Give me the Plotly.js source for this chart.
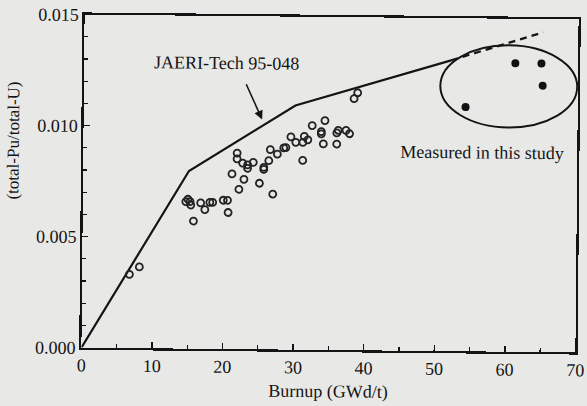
<!DOCTYPE html>
<html>
<head>
<meta charset="utf-8">
<script src="https://cdn.plot.ly/plotly-3.0.1.min.js"></script>
<style>
  html, body { margin: 0; padding: 0; background: #e8e8e6; overflow: hidden; }
  #chart { width: 587px; height: 406px; transform: rotate(0.55deg); transform-origin: 330px 183px; }
</style>
</head>
<body>
<div id="chart"></div>
<script>
// Reference curve (JAERI-Tech 95-048)
const refBurnup = [0, 15, 30, 52];
const refRatio  = [0, 0.0080, 0.0110, 0.0131];
const refExtBurnup = [52, 65];
const refExtRatio  = [0.0131, 0.0144];

// Open-circle data (literature)
const litBurnup = [6.7, 8.1, 14.6, 14.9, 15.2, 15.3, 15.7, 16.7, 17.3, 18.0, 18.4, 19.9, 20.5, 20.6,
  21.1, 21.8, 21.8, 22.1, 22.8, 22.6, 23.3, 24.1, 23.3, 25.0, 25.6, 25.6, 26.3, 26.9, 27.5, 26.5,
  28.4, 28.7, 29.4, 30.1, 31.1, 31.3, 31.8, 31.1, 32.4, 33.7, 33.7, 34.0, 34.2, 35.9, 36.1, 35.9,
  37.2, 37.7, 38.3, 38.8];
const litRatio = [0.00332, 0.00366, 0.00662, 0.00673, 0.00662, 0.00647, 0.00575, 0.00657, 0.00627, 0.00660, 0.00660, 0.00670, 0.00670, 0.00615,
  0.00789, 0.00883, 0.00857, 0.00720, 0.00765, 0.00838, 0.00815, 0.00842, 0.00830, 0.00748, 0.00820, 0.00811, 0.00850, 0.00700, 0.00880, 0.00900,
  0.00908, 0.00910, 0.00958, 0.00934, 0.00934, 0.00961, 0.00946, 0.00853, 0.01010, 0.00983, 0.00973, 0.00928, 0.01033, 0.00978, 0.00990, 0.00928,
  0.00990, 0.00975, 0.01133, 0.01160];

// Filled circles (measured in this study)
const measBurnup = [61.1, 64.8, 65.0, 54.1];
const measRatio  = [0.0130, 0.0130, 0.0120, 0.0110];

const xTickVals = [0, 10, 20, 30, 40, 50, 60, 70];
const yTickVals = [0, 0.005, 0.010, 0.015];

const ink = '#141414';
const fontFam = '"Liberation Serif", "Times New Roman", serif';

const traces = [
  { x: refBurnup, y: refRatio, mode: 'lines', line: { color: ink, width: 2.2 }, hoverinfo: 'skip' },
  { x: refExtBurnup, y: refExtRatio, mode: 'lines', line: { color: ink, width: 2.2, dash: '7px,5px' }, hoverinfo: 'skip' },
  { x: litBurnup, y: litRatio, mode: 'markers',
    marker: { symbol: 'circle-open', size: 7, color: '#222', line: { width: 1.8, color: '#222' } } },
  { x: measBurnup, y: measRatio, mode: 'markers',
    marker: { symbol: 'circle', size: 8, color: '#111' } }
];

const layout = {
  width: 587, height: 406,
  margin: { l: 83, r: 10, t: 17, b: 56 },
  paper_bgcolor: '#e8e8e6', plot_bgcolor: '#e8e8e6',
  showlegend: false,
  font: { family: fontFam, size: 18, color: ink },
  xaxis: {
    range: [0, 70], tickvals: xTickVals, ticktext: xTickVals.map(String),
    ticks: 'inside', ticklen: 6, tickwidth: 1.5, tickcolor: ink,
    minor: { dtick: 5, ticks: 'inside', ticklen: 4, tickwidth: 1.2, tickcolor: ink },
    showline: true, linecolor: ink, linewidth: 2.2, mirror: true,
    showgrid: false, zeroline: false,
    tickfont: { family: fontFam, size: 18, color: ink },
    title: { text: 'Burnup (GWd/t)', font: { family: fontFam, size: 18, color: ink }, standoff: 8 }
  },
  yaxis: {
    range: [0, 0.015], tickvals: yTickVals, ticktext: yTickVals.map(v => v.toFixed(3)),
    ticks: 'inside', ticklen: 6, tickwidth: 1.5, tickcolor: ink,
    minor: { dtick: 0.001, ticks: 'inside', ticklen: 4, tickwidth: 1.2, tickcolor: ink },
    showline: true, linecolor: ink, linewidth: 2.2, mirror: true,
    showgrid: false, zeroline: false,
    tickfont: { family: fontFam, size: 18, color: ink }
  },
  shapes: [
    { type: 'circle', xref: 'x', yref: 'y', x0: 50.5, x1: 69.9, y0: 0.0101, y1: 0.0138,
      line: { color: ink, width: 2 } }
  ],
  annotations: [
    { xref: 'paper', yref: 'paper', x: -0.165, y: 0.62, text: '(total-Pu/total-U)', textangle: -90,
      showarrow: false, font: { family: fontFam, size: 17, color: ink } },
    { xref: 'x', yref: 'y', x: 20.2, y: 0.0129, text: 'JAERI-Tech 95-048', showarrow: false,
      font: { family: fontFam, size: 18, color: ink } },
    { xref: 'x', yref: 'y', x: 25.3, y: 0.01035, ax: 22.9, ay: 0.0120, axref: 'x', ayref: 'y',
      text: '', showarrow: true, arrowhead: 2, arrowsize: 1.1, arrowwidth: 1.6, arrowcolor: ink },
    { xref: 'x', yref: 'y', x: 56.6, y: 0.00896, text: 'Measured in this study', showarrow: false,
      font: { family: fontFam, size: 18, color: ink } }
  ]
};

Plotly.newPlot('chart', traces, layout, { displayModeBar: false, staticPlot: true });
</script>
</body>
</html>
